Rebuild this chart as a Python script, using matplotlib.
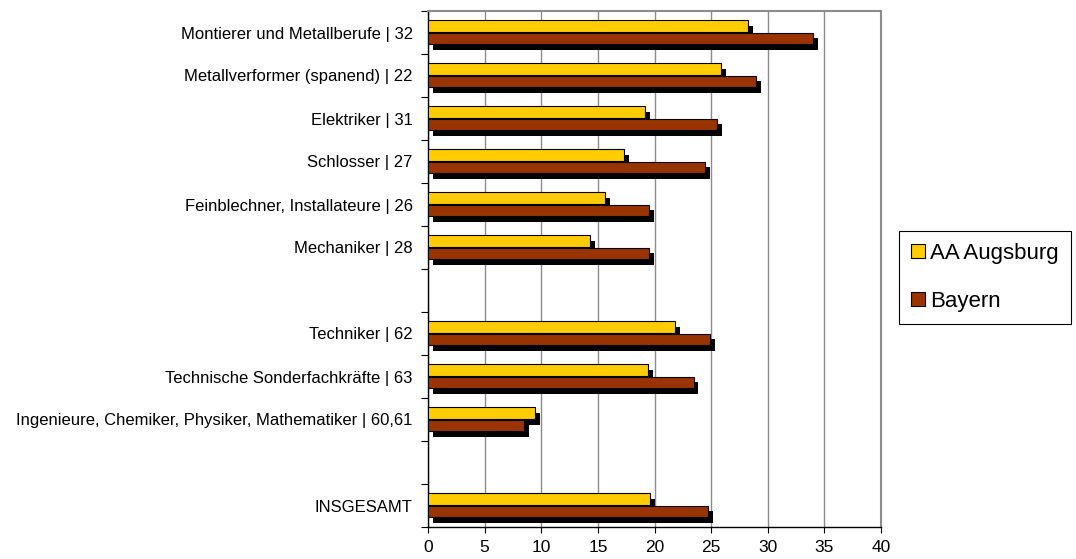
import numpy as np
import matplotlib.pyplot as plt
import matplotlib.patheffects as pe

plt.rcParams['font.family'] = ['Liberation Sans', 'DejaVu Sans']

# Berufsgruppen von oben nach unten, leere Einträge = Abstandszeilen
kategorien = [
    'Montierer und Metallberufe | 32',
    'Metallverformer (spanend) | 22',
    'Elektriker | 31',
    'Schlosser | 27',
    'Feinblechner, Installateure | 26',
    'Mechaniker | 28',
    '',
    'Techniker | 62',
    'Technische Sonderfachkräfte | 63',
    'Ingenieure, Chemiker, Physiker, Mathematiker | 60,61',
    '',
    'INSGESAMT',
]
augsburg = [28.3, 25.9, 19.2, 17.3, 15.6, 14.3, np.nan, 21.8, 19.4, 9.45, np.nan, 19.6]
bayern = [34.0, 28.95, 25.5, 24.5, 19.5, 19.5, np.nan, 24.9, 23.45, 8.45, np.nan, 24.75]

gelb = '#FFCC00'
braun = '#993300'

fig = plt.figure(figsize=(10.76, 5.59), dpi=100)
ax = fig.add_axes([428 / 1076, 32 / 559, 453 / 1076, 516 / 559])

y = np.arange(len(kategorien))
schatten = [pe.SimplePatchShadow(offset=(3.5, -4.0), shadow_rgbFace='black', alpha=1.0), pe.Normal()]

ax.barh(y - 0.145, augsburg, height=0.28, color=gelb, edgecolor='black', linewidth=0.8,
        label='AA Augsburg', path_effects=schatten, zorder=3)
ax.barh(y + 0.14, bayern, height=0.27, color=braun, edgecolor='black', linewidth=0.8,
        label='Bayern', path_effects=schatten, zorder=3)

ax.set_xlim(0, 40)
ax.set_ylim(len(kategorien) - 0.5, -0.5)
ax.set_xticks(np.arange(0, 41, 5))
ax.set_yticks(y)
ax.set_yticklabels(kategorien)
ax.set_yticks(np.arange(-0.5, len(kategorien), 1), minor=True)

ax.tick_params(axis='y', which='major', length=0, pad=11, labelsize=12)
ax.tick_params(axis='y', which='minor', length=5, width=0.8, direction='out')
ax.tick_params(axis='x', length=4, width=0.8, pad=5.5, labelsize=12.5)

ax.grid(axis='x', color='#8c8c8c', linewidth=1)
ax.set_axisbelow(True)
for s in ['top', 'right']:
    ax.spines[s].set_color('#8c8c8c')
    ax.spines[s].set_linewidth(1.5)
for s in ['left', 'bottom']:
    ax.spines[s].set_color('black')
    ax.spines[s].set_linewidth(1)

leg = fig.legend(loc='upper left', bbox_to_anchor=(899 / 1076, 1 - 231 / 559), borderaxespad=0,
                 fontsize=16, handlelength=0.6, handleheight=0.6, handletextpad=0.25,
                 labelspacing=1.2, borderpad=0.55, fancybox=False, framealpha=1)
leg.get_frame().set_edgecolor('black')
leg.get_frame().set_linewidth(0.8)
for h in leg.legend_handles:
    h.set_path_effects([])

fig.savefig('out.png', dpi=100)
